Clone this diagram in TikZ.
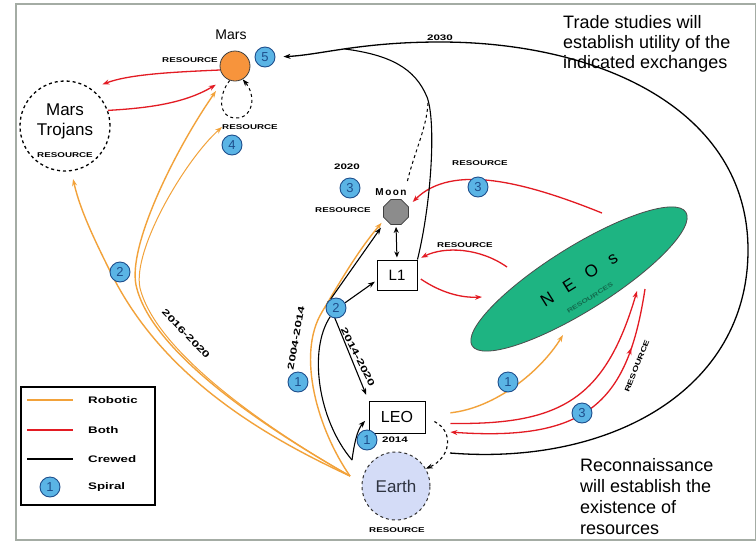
\documentclass[tikz,border=0pt]{standalone}
\usepackage{fontspec}
\setmainfont{Liberation Sans}
\usetikzlibrary{arrows.meta,shapes.geometric,decorations.markings}
\pgfdeclarelayer{back}
\pgfdeclarelayer{bg}
\pgfsetlayers{back,bg,main}
\definecolor{robo}{HTML}{F2A23A}
\definecolor{bothc}{HTML}{E31B23}
\definecolor{badgef}{HTML}{5AB4E5}
\definecolor{badged}{HTML}{1E4E8C}
\definecolor{marsc}{HTML}{F7943C}
\definecolor{earthc}{HTML}{D4DCF7}
\definecolor{earthtxt}{HTML}{2E3340}
\definecolor{neoc}{HTML}{1EB482}
\definecolor{moonc}{HTML}{8C8C8C}
\definecolor{framec}{HTML}{A4ACA4}
\newcommand{\tinyres}{\scalebox{1.4}[1]{\fontsize{7}{7}\selectfont\bfseries RESOURCE}}
\newcommand{\yrs}[1]{\scalebox{1.45}[1]{\fontsize{8}{8}\selectfont\bfseries #1}}
\newcommand{\yrl}[1]{\scalebox{1.5}[1]{\fontsize{9}{9}\selectfont\bfseries #1}}
\newcommand{\legt}[1]{\scalebox{1.4}[1]{\fontsize{9.5}{10}\selectfont\bfseries #1}}
\begin{document}
\begin{tikzpicture}[x=1pt,y=-1pt,
  badge/.style={circle,draw=badged,fill=badgef,line width=0.9pt,inner sep=0pt,minimum size=20pt,font=\fontsize{13}{13}\selectfont,text=badged},
  robotic/.style={draw=robo,line width=1.4pt,-{Stealth[length=7pt,width=5pt]}},
  bothl/.style={bothc,draw,line width=1.3pt,-{Stealth[length=7pt,width=5pt]}},
  crewed/.style={draw=black,line width=1.1pt,-{Stealth[length=7pt,width=5pt]}},
  boxnode/.style={draw,line width=1pt,fill=white,inner sep=0pt},
  tag/.style={inner sep=0pt},
]
\useasboundingbox (0,0) rectangle (756,542);
\begin{pgfonlayer}{back}
\fill[white] (0,0) rectangle (756,542);
\draw[framec,line width=1.5pt] (16,4) rectangle (756,540);
\end{pgfonlayer}

% Mars
\node[circle,draw=black!75,line width=0.8pt,fill=marsc,minimum size=30pt,inner sep=0pt] (mars) at (235,66) {};
\node[font=\fontsize{14}{14}\selectfont] (marslbl) at (231,35) {Mars};
\node[badge] (b5) at (265,57) {5};
\node[tag] (rmars) at (190,60) {\tinyres};
% Mars Trojans
\node[circle,draw,dashed,line width=1.3pt,minimum size=90pt,inner sep=0pt] (troj) at (65,126) {};
\node[align=center,font=\fontsize{17}{20}\selectfont] (trojlbl) at (65,121) {Mars\\Trojans};
\node[tag] (rtroj) at (65,155) {\tinyres};
\node[tag] (r4) at (250,127) {\tinyres};
\node[badge] (b4) at (232,145) {4};
% Moon
\node[regular polygon,regular polygon sides=8,draw=black!75,line width=0.8pt,fill=moonc,minimum size=27pt,inner sep=0pt] (moon) at (396,212) {};
\node[font=\fontsize{10}{10}\selectfont\bfseries] (moonlbl) at (391,192) {M\hspace{1.5pt}o\hspace{1.5pt}o\hspace{1.5pt}n};
\node[badge] (b3m) at (350,188) {3};
\node[tag] (y2020) at (347,167) {\yrs{2020}};
\node[tag] (rmoon) at (343,210) {\tinyres};
% L1, LEO, Earth
\node[boxnode,minimum width=40pt,minimum height=30pt,font=\fontsize{15}{15}\selectfont] (l1) at (397,275) {L1};
\node[boxnode,minimum width=56pt,minimum height=32pt,font=\fontsize{16}{16}\selectfont] (leo) at (397,417) {LEO};
\node[circle,draw=black!80,dashed,line width=1pt,fill=earthc,minimum size=68pt,inner sep=0pt,font=\fontsize{17}{17}\selectfont,text=earthtxt] (earth) at (396,486) {Earth};
\node[tag] (rearth) at (397,530) {\tinyres};
\node[badge] (b1e) at (367,440) {1};
\node[tag] (y2014) at (395,440) {\yrs{2014}};
% NEOs
\node[ellipse,draw=black!70,line width=0.8pt,fill=neoc,minimum width=252pt,minimum height=64pt,rotate=32,inner sep=0pt,font=\fontsize{17}{17}\selectfont] (neo) at (579,279) {N\hspace{14pt}E\hspace{14pt}O\hspace{14pt}s};
\node[tag,rotate=32,text=neoc!60!black] (rneo) at (590,298) {\scalebox{1.4}[1]{\fontsize{6}{6}\selectfont\bfseries RESOURCES}};
\node[badge] (b3n) at (478,187) {3};
\node[tag] (rneo1) at (480,163) {\tinyres};
\node[tag] (rneo2) at (465,245) {\tinyres};
\node[badge] (b1n) at (508,382) {1};
\node[badge] (b3r) at (582,413) {3};
\node[tag,rotate=68] (rres) at (637,366) {\tinyres};
\node[badge] (b2m) at (336,308) {2};
\node[badge] (b1m) at (298,382) {1};
\node[badge] (b2t) at (120,272) {2};
% years
\node[tag] (y2030) at (440,38) {\yrs{2030}};
\node[tag,rotate=80] (y0414) at (296,338) {\yrl{2004-2014}};
\node[tag,rotate=-63] (y1420) at (358,357) {\yrl{2014-2020}};
\node[tag,rotate=-46] (y1620) at (186,334) {\yrl{2016-2020}};
% notes
\node[anchor=north west,align=left,inner sep=0pt,font=\fontsize{18}{20}\selectfont] (trade) at (563,15) {Trade studies will\\establish utility of the\\indicated exchanges};
\node[anchor=north west,align=left,inner sep=0pt,font=\fontsize{18}{21}\selectfont] (recon) at (580,458) {Reconnaissance\\will establish the\\existence of\\resources};
% legend
\node[draw,line width=1.5pt,minimum width=134pt,minimum height=118pt,inner sep=0pt] (legend) at (88,446) {};
\draw[robo,line width=2pt] (27,400) -- (73,400);
\node[tag,anchor=west] (lrob) at (88,400) {\legt{Robotic}};
\draw[bothc,line width=2pt] (27,430) -- (73,430);
\node[tag,anchor=west] (lboth) at (88,430) {\legt{Both}};
\draw[black,line width=2pt] (27,459) -- (73,459);
\node[tag,anchor=west] (lcrew) at (88,459) {\legt{Crewed}};
\node[badge] (lbadge) at (50,487) {1};
\node[tag,anchor=west] (lspi) at (88,487) {\legt{Spiral}};

% connector end points
\coordinate (eo) at (350,476);
\coordinate (eo2) at (352,460);
\coordinate (ls) at (450,453);
\coordinate (nA) at (602,213);
\coordinate (nB) at (507,267);
\coordinate (nC) at (482,297);
\coordinate (nD) at (563,335);
\coordinate (nE) at (637,291);
\coordinate (nF) at (645,289);

\begin{pgfonlayer}{bg}
% robotic
\draw[robotic,shorten >=8pt] (eo) .. controls (250,430) and (160,370) .. (112,275) .. controls (95,241) and (80,210) .. (troj.278);
\draw[robotic,shorten >=16pt] (eo) .. controls (260,425) and (150,350) .. (136,285) .. controls (128,245) and (175,150) .. (mars.230);
\draw[robotic,line width=1pt] (eo) .. controls (266,428) and (156,352) .. (140,288) .. controls (132,250) and (185,160) .. (r4.west);
\draw[robotic,shorten >=5pt] (eo) .. controls (318,430) and (296,355) .. (322,312) .. controls (340,282) and (357,252) .. (moon.212);
\draw[robotic,shorten <=25pt] (leo.3) .. controls (495,408) and (540,372) .. (nD);
% both
\draw[bothl,shorten >=12pt] (mars.195) .. controls (175,72) and (130,74) .. (troj.55);
\draw[bothl,shorten >=12pt] (troj.20) .. controls (150,108) and (185,103) .. (mars.235);
\draw[bothl,shorten >=6pt] (nA) .. controls (525,182) and (452,163) .. (moon.25);
\draw[bothl,shorten >=4pt] (nB) .. controls (480,248) and (445,246) .. (l1.north east);
\draw[bothl,shorten <=4pt] (l1.-5) .. controls (440,292) and (460,298) .. (nC);
\draw[bothl,shorten <=25pt] (leo.-12) .. controls (560,425) and (605,400) .. (nE);
\draw[bothl,shorten >=25pt,postaction={decorate},decoration={markings,mark=at position 0.2 with {\arrowreversed{Stealth[length=7pt,width=5pt]}}}] (nF) .. controls (628,400) and (590,442) .. (leo.-25);
% crewed
\draw[black,line width=1.1pt] (eo2) .. controls (318,420) and (308,350) .. (b2m);
\draw[crewed,shorten >=9pt] (b2m.120) -- (moon.220);
\draw[crewed,shorten >=2pt] (b2m.30) -- (l1.195);
\draw[crewed,shorten >=6pt] (b2m.140) -- (leo.north west);
\draw[crewed,shorten >=5pt] (eo2) .. controls (354,445) and (357,430) .. (leo.west);
\draw[crewed,dashed,shorten <=10pt] (leo.east) .. controls (455,432) and (450,458) .. (earth.30);
\draw[black,line width=1pt,{Stealth[length=6pt,width=5pt]}-{Stealth[length=6pt,width=5pt]},shorten <=2pt,shorten >=2pt] (moon.south) -- (l1.north);
\draw[crewed,dashed,line width=1pt] (mars.250) .. controls (218,95) and (218,118) .. (236,118) .. controls (254,118) and (256,95) .. (mars.300);
\draw[crewed,line width=1.3pt,shorten >=8pt] (ls) .. controls (610,466) and (748,390) .. (748,250) .. controls (748,110) and (600,42) .. (440,42) .. controls (360,42) and (320,55) .. (b5.east);
\draw[black,line width=1.1pt] (l1.north east) .. controls (432,200) and (436,120) .. (427,97) .. controls (415,68) and (390,55) .. (345,49);
\draw[black,dashed,line width=1pt,shorten <=20pt] (moon.60) .. controls (415,150) and (428,125) .. (428,100);
\end{pgfonlayer}
\end{tikzpicture}
\end{document}
